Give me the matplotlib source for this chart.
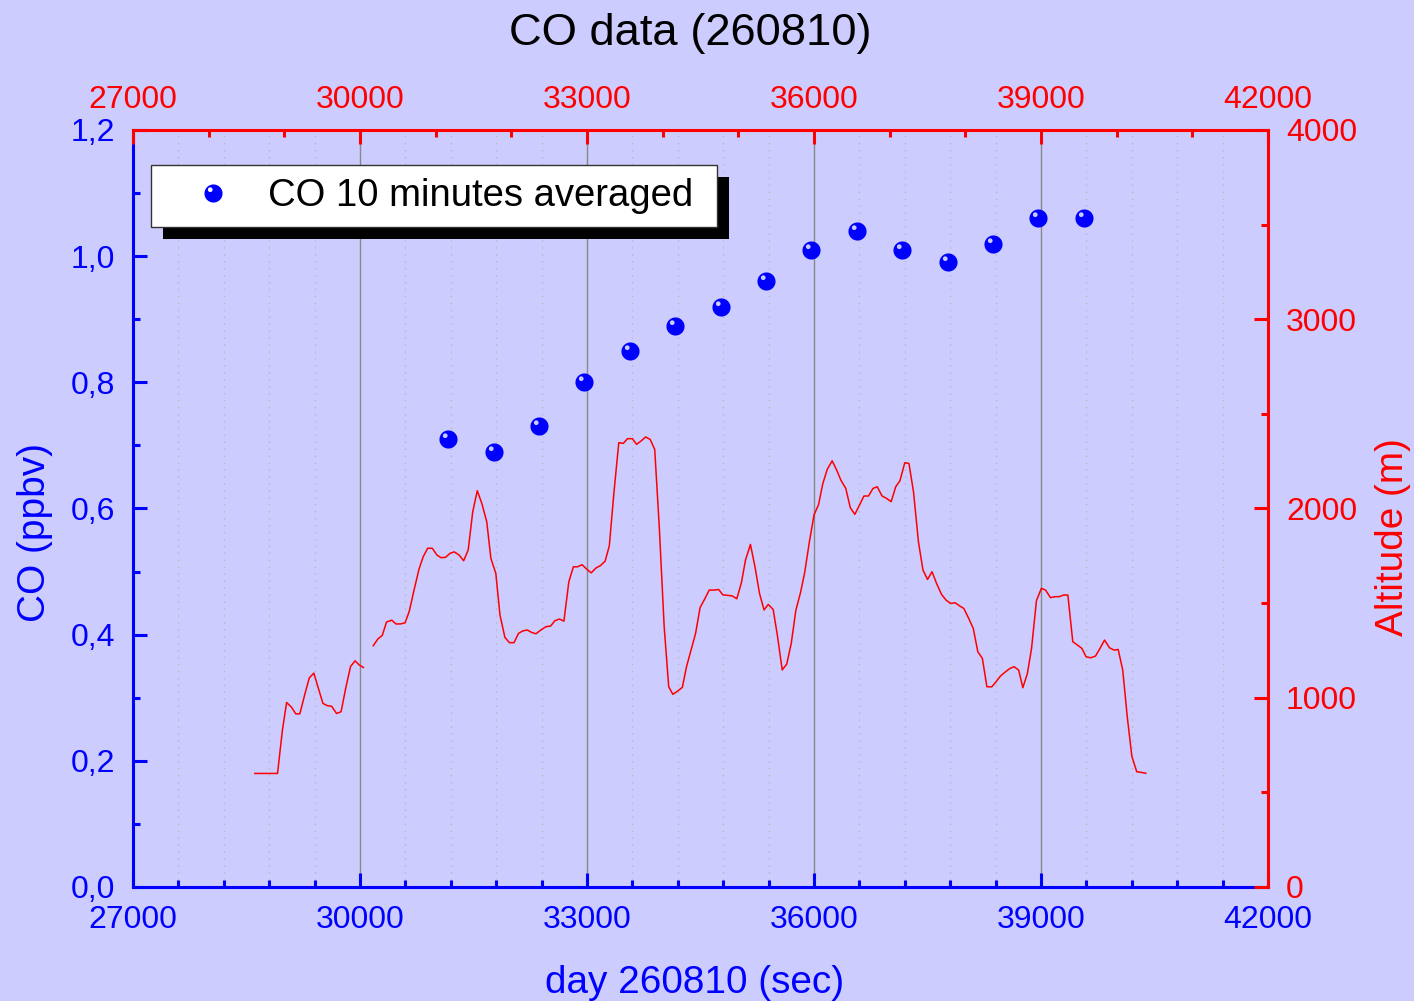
import numpy as np
import matplotlib
matplotlib.use('Agg')
import matplotlib.pyplot as plt
from matplotlib.path import Path
from matplotlib.patches import Rectangle
from matplotlib.ticker import MultipleLocator, FuncFormatter, FormatStrFormatter
from matplotlib.transforms import IdentityTransform

# CO medio de 10 minutos
co_time = [31165, 31765, 32365, 32965, 33565, 34165, 34765, 35365,
           35965, 36565, 37165, 37765, 38365, 38965, 39565]
co_ppbv = [0.71, 0.69, 0.73, 0.80, 0.85, 0.89, 0.92, 0.96,
           1.01, 1.04, 1.01, 0.99, 1.02, 1.06, 1.06]

# altitude do voo (nan = falha nos dados)
alt_time = [28610, 28910, 28975, 29030, 29095, 29150, 29205, 29275, 29330, 29390,
            29450, 29510, 29570, 29625, 29690, 29750, 29815, 29875, 29935, 29990,
            30045, 30110, 30175, 30235, 30295, 30350, 30420, 30475, 30535, 30595,
            30650, 30715, 30780, 30835, 30895, 30955, 31015, 31070, 31130, 31190,
            31245, 31310, 31370, 31430, 31490, 31550, 31610, 31675, 31730, 31795,
            31850, 31915, 31975, 32035, 32095, 32150, 32210, 32270, 32325, 32390,
            32455, 32520, 32575, 32635, 32695, 32760, 32820, 32875, 32935, 32995,
            33055, 33120, 33180, 33240, 33295, 33355, 33420, 33480, 33535, 33600,
            33655, 33715, 33775, 33835, 33895, 33955, 34020, 34080, 34135, 34200,
            34260, 34315, 34375, 34435, 34495, 34560, 34615, 34680, 34740, 34795,
            34860, 34920, 34980, 35040, 35095, 35160, 35220, 35280, 35340, 35395,
            35460, 35515, 35580, 35640, 35700, 35760, 35820, 35875, 35940, 36000,
            36060, 36115, 36175, 36240, 36300, 36355, 36420, 36480, 36540, 36600,
            36660, 36720, 36780, 36835, 36900, 36960, 37020, 37080, 37135, 37200,
            37255, 37315, 37380, 37440, 37500, 37560, 37620, 37685, 37745, 37805,
            37865, 37925, 37980, 38045, 38105, 38165, 38225, 38285, 38350, 38405,
            38465, 38530, 38590, 38645, 38705, 38760, 38820, 38875, 38940, 39005,
            39060, 39125, 39185, 39240, 39300, 39355, 39420, 39480, 39540, 39595,
            39655, 39720, 39780, 39840, 39905, 39965, 40020, 40080, 40140, 40200,
            40265, 40320, 40385]
alt_m = [600, 600, 830, 975, 950, 915, 915, 1025, 1105, 1130,
         1050, 970, 958, 955, 917, 926, 1058, 1165, 1195, 1173,
         1160, np.nan, 1275, 1310, 1330, 1400, 1410, 1390, 1390, 1396,
         1455, 1570, 1680, 1745, 1790, 1790, 1755, 1740, 1742, 1763,
         1771, 1754, 1724, 1781, 1983, 2094, 2027, 1930, 1736, 1657,
         1437, 1319, 1291, 1291, 1340, 1353, 1358, 1345, 1338, 1358,
         1375, 1379, 1407, 1416, 1405, 1613, 1692, 1692, 1703, 1680,
         1660, 1686, 1699, 1722, 1803, 2080, 2348, 2344, 2369, 2369,
         2339, 2357, 2378, 2365, 2312, 1904, 1375, 1058, 1018, 1036,
         1055, 1164, 1252, 1340, 1477, 1525, 1569, 1569, 1572, 1544,
         1541, 1538, 1523, 1607, 1728, 1810, 1692, 1551, 1464, 1493,
         1467, 1332, 1147, 1178, 1289, 1462, 1553, 1657, 1826, 1966,
         2020, 2129, 2207, 2252, 2203, 2150, 2106, 2004, 1969, 2018,
         2066, 2066, 2106, 2115, 2066, 2053, 2036, 2115, 2146, 2242,
         2238, 2088, 1825, 1675, 1625, 1666, 1604, 1546, 1516, 1498,
         1502, 1485, 1472, 1419, 1366, 1243, 1208, 1058, 1058, 1084,
         1115, 1137, 1155, 1164, 1146, 1053, 1128, 1261, 1513, 1578,
         1569, 1529, 1534, 1534, 1543, 1543, 1296, 1279, 1261, 1217,
         1211, 1220, 1261, 1305, 1264, 1252, 1255, 1147, 900, 692,
         609, 606, 601]

x_ticks = [27000, 30000, 33000, 36000, 39000, 42000]

plt.rcParams['font.family'] = ['Liberation Sans', 'DejaVu Sans']

fundo = '#ccccff'
azul = '#0000ff'
verm = '#ff0000'

fig = plt.figure(figsize=(14.14, 10.01), dpi=100, facecolor=fundo)
ax = fig.add_axes([133 / 1414, 114 / 1001, 1135 / 1414, 757 / 1001])
ax.set_facecolor(fundo)
ax2 = ax.twinx()

# marcador tipo "bola" com brilho (furo no caminho)
ang = np.linspace(0, 2 * np.pi, 65)
fora = np.column_stack([np.cos(ang), np.sin(ang)])
brilho = np.column_stack([-0.36 + 0.26 * np.cos(-ang), 0.42 + 0.26 * np.sin(-ang)])
bola = Path.make_compound_path(Path(fora, closed=True), Path(brilho, closed=True))

sc = ax.scatter(co_time, co_ppbv, s=170, marker=bola, color=azul, linewidths=0,
                zorder=3, label='CO 10 minutes averaged')
ax2.plot(alt_time, alt_m, color=verm, lw=1.1)

ax.set_xlim(27000, 42000)
ax.set_ylim(0, 1.2)
ax2.set_ylim(0, 4000)

ax.set_xticks(x_ticks)
ax.xaxis.set_minor_locator(MultipleLocator(600))
ax.yaxis.set_major_locator(MultipleLocator(0.2))
ax.yaxis.set_minor_locator(MultipleLocator(0.1))
ax.yaxis.set_major_formatter(FuncFormatter(lambda v, p: f'{v:.1f}'.replace('.', ',')))
ax2.yaxis.set_major_locator(MultipleLocator(1000))
ax2.yaxis.set_minor_locator(MultipleLocator(500))

ax.grid(axis='x', which='major', color='#888888', lw=1)
ax.grid(axis='x', which='minor', color='#b8b8b8', lw=1, ls=(0, (1, 4)))

for s in ['top', 'right']:
    ax.spines[s].set_visible(False)
for s in ['left', 'bottom']:
    ax.spines[s].set_color(azul)
    ax.spines[s].set_linewidth(2.2)
for s in ['left', 'top', 'bottom']:
    ax2.spines[s].set_visible(False)
ax2.spines['right'].set_color(verm)
ax2.spines['right'].set_linewidth(2.2)

ax.tick_params(axis='x', which='both', direction='in', colors=azul, width=2.2,
               labelsize=23, pad=13)
ax.tick_params(axis='y', which='both', direction='in', colors=azul, width=2.2,
               labelsize=23, pad=13)
ax2.tick_params(axis='y', which='both', direction='in', colors=verm, width=2.2,
                labelsize=23, pad=13)
for a in [ax.xaxis, ax.yaxis, ax2.yaxis]:
    a.set_tick_params(which='major', length=10)
    a.set_tick_params(which='minor', length=5)

topo = ax.secondary_xaxis('top')
topo.set_zorder(5)
topo.set_xticks(x_ticks)
topo.xaxis.set_minor_locator(MultipleLocator(1000))
topo.xaxis.set_major_formatter(FormatStrFormatter('%d'))
topo.tick_params(which='both', direction='in', colors=verm, width=2.2,
                 labelsize=23, pad=11)
topo.tick_params(which='major', length=10)
topo.tick_params(which='minor', length=5)
topo.spines['top'].set_color(verm)
topo.spines['top'].set_linewidth(2.2)

ax.set_xlabel('day 260810 (sec)', color=azul, fontsize=27.9, va='baseline')
ax.xaxis.set_label_coords((695 - 133) / 1135, (887 - 993) / 757)
ax.set_ylabel('CO (ppbv)', color=azul, fontsize=27.9, va='baseline')
ax.yaxis.set_label_coords((45 - 133) / 1135, (887 - 532) / 757)
ax2.set_ylabel('Altitude (m)', color=verm, fontsize=27.9, va='baseline',
               rotation=90, rotation_mode='anchor')
ax2.yaxis.set_label_coords((1403 - 133) / 1135, (887 - 537) / 757)
fig.suptitle('CO data (260810)', x=690 / 1414, y=1 - 45 / 1001, va='baseline', fontsize=32.7)

leg = ax2.legend(handles=[sc], loc='upper left',
                 bbox_to_anchor=(18 / 1135, (722 - 80) / 757, 566 / 1135, 80 / 757),
                 mode='expand', borderaxespad=0, fontsize=27.5, borderpad=0.34,
                 handlelength=2.56, handletextpad=0.16, fancybox=False, framealpha=1,
                 edgecolor='#333333', facecolor='white', scatterpoints=1,
                 scatteryoffsets=[0.5])
leg.get_frame().set_linewidth(1)

# sombra preta deslocada da legenda
fig.canvas.draw()
bb = leg.get_frame().get_window_extent(fig.canvas.get_renderer())
sombra = Rectangle((bb.x0 + 12, bb.y0 - 12), bb.width, bb.height, transform=IdentityTransform(),
                   facecolor='black', edgecolor='none', zorder=leg.get_zorder() - 0.5)
ax2.add_artist(sombra)

fig.savefig('out.png', dpi=100, facecolor=fundo)
